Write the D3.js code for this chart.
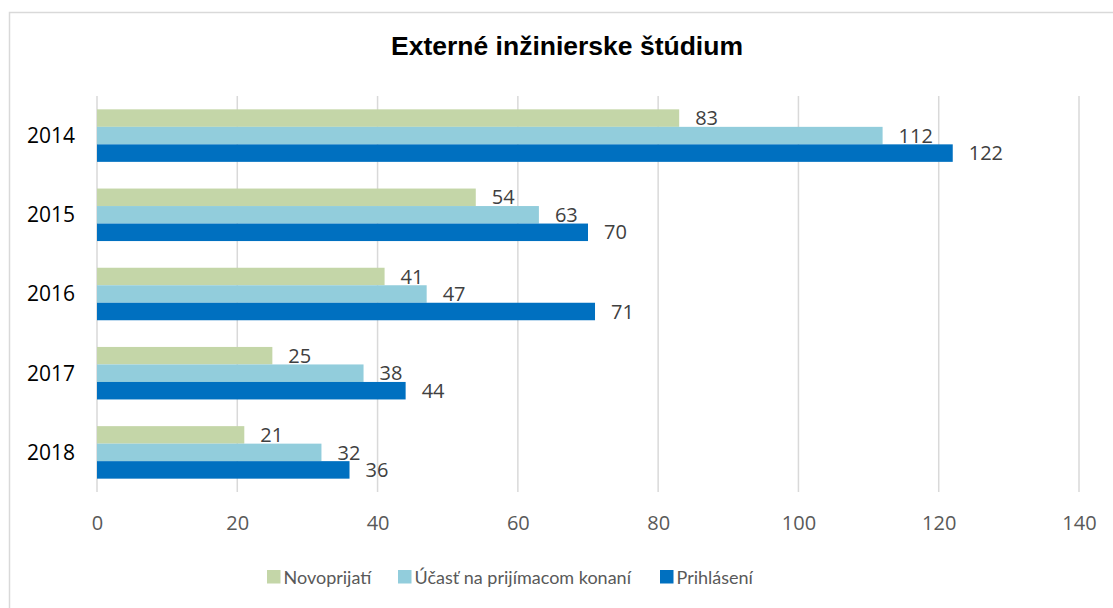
<!DOCTYPE html>
<html>
<head>
<meta charset="utf-8">
<script src="https://cdn.jsdelivr.net/npm/d3@7"></script>
<style>
  body { margin: 0; background: #fff; }
  svg text { font-family: "Open Sans", sans-serif; }
</style>
</head>
<body>
<div id="chart"></div>
<script>
// data
const years = ["2014", "2015", "2016", "2017", "2018"];
const seriesNames = ["Novoprijatí", "Účasť na prijímacom konaní", "Prihlásení"];
const novoprijati = [83, 54, 41, 25, 21];
const ucast = [112, 63, 47, 38, 32];
const prihlaseni = [122, 70, 71, 44, 36];
const xTicks = [0, 20, 40, 60, 80, 100, 120, 140];
const colors = ["#c4d6a8", "#92cddc", "#0070c0"];

const seriesValues = [novoprijati, ucast, prihlaseni];
const rows = years.map((y, i) => ({
  year: y,
  vals: seriesValues.map((s, k) => ({key: seriesNames[k], value: s[i], k: k}))
}));

const W = 1113, H = 608;
const margin = {top: 96, right: 34, bottom: 116, left: 97};

const svg = d3.select("#chart")
    .append("svg")
    .attr("width", W)
    .attr("height", H);

// outer chart frame
svg.append("rect")
    .attr("x", 9.5)
    .attr("y", 12.5)
    .attr("width", W + 20)
    .attr("height", H + 20)
    .attr("fill", "#fff")
    .attr("stroke", "#d9d9d9")
    .attr("stroke-width", 1.5);

svg.append("text")
    .attr("x", 567)
    .attr("y", 55)
    .attr("text-anchor", "middle")
    .style("font-family", "'Liberation Sans', Arial, sans-serif")
    .style("font-weight", "bold")
    .style("font-size", "26.5px")
    .attr("fill", "#000")
    .text("Externé inžinierske štúdium");

const x = d3.scaleLinear()
    .domain([0, 140])
    .range([margin.left, W - margin.right]);

const pad = 0.337;
const y = d3.scaleBand()
    .domain(years)
    .range([margin.top, H - margin.bottom])
    .paddingInner(pad)
    .paddingOuter(pad / 2);

const ySub = d3.scaleBand()
    .domain(d3.range(seriesNames.length))
    .range([0, y.bandwidth()]);

// gridlines
svg.append("g")
    .selectAll("line")
    .data(xTicks)
    .enter()
    .append("line")
    .attr("x1", (d) => x(d))
    .attr("x2", (d) => x(d))
    .attr("y1", margin.top)
    .attr("y2", H - margin.bottom)
    .attr("stroke", "#d9d9d9")
    .attr("stroke-width", 1.5);

// x tick labels
const xAxis = svg.append("g")
    .attr("transform", "translate(0," + (H - margin.bottom) + ")")
    .call(d3.axisBottom(x).tickValues(xTicks).tickSize(0).tickPadding(0));
xAxis.select(".domain").remove();
xAxis.selectAll("text")
    .attr("y", 38)
    .attr("dy", null)
    .attr("fill", "#595959")
    .style("font-family", "'Open Sans', sans-serif")
    .style("font-size", "20px");

// category labels
const yAxis = svg.append("g")
    .attr("transform", "translate(" + margin.left + ",0)")
    .call(d3.axisLeft(y).tickSize(0).tickPadding(22));
yAxis.select(".domain").remove();
yAxis.selectAll("text")
    .attr("fill", "#000")
    .attr("dy", "0.35em")
    .style("font-family", "'Open Sans', sans-serif")
    .style("font-size", "21px");

// bars
const group = svg.append("g")
    .selectAll(".grp")
    .data(rows)
    .enter()
    .append("g")
    .attr("class", "grp")
    .attr("transform", (d) => "translate(0," + y(d.year) + ")");

group.selectAll("rect")
    .data((d) => d.vals)
    .enter()
    .append("rect")
    .attr("x", x(0))
    .attr("y", (d) => ySub(d.k))
    .attr("width", (d) => x(d.value) - x(0))
    .attr("height", ySub.bandwidth())
    .attr("fill", (d) => colors[d.k]);

group.selectAll(".lbl")
    .data((d) => d.vals)
    .enter()
    .append("text")
    .attr("class", "lbl")
    .attr("x", (d) => x(d.value) + 16)
    .attr("y", (d) => ySub(d.k) + ySub.bandwidth() / 2)
    .attr("dy", "0.36em")
    .attr("fill", "#404040")
    .style("font-size", "20px")
    .text((d) => d.value);

// legend
const legendX = [267, 398, 660];
const legend = svg.append("g")
    .selectAll(".leg")
    .data(seriesNames)
    .enter()
    .append("g")
    .attr("class", "leg")
    .attr("transform", (d, i) => "translate(" + legendX[i] + ",570)");

legend.append("rect")
    .attr("width", 13.5)
    .attr("height", 13.5)
    .attr("fill", (d, i) => colors[i]);

legend.append("text")
    .attr("x", 16.5)
    .attr("y", 13.5)
    .attr("fill", "#595959")
    .style("font-family", "Lato, sans-serif")
    .style("font-size", "18px")
    .text((d) => d);
</script>
</body>
</html>
